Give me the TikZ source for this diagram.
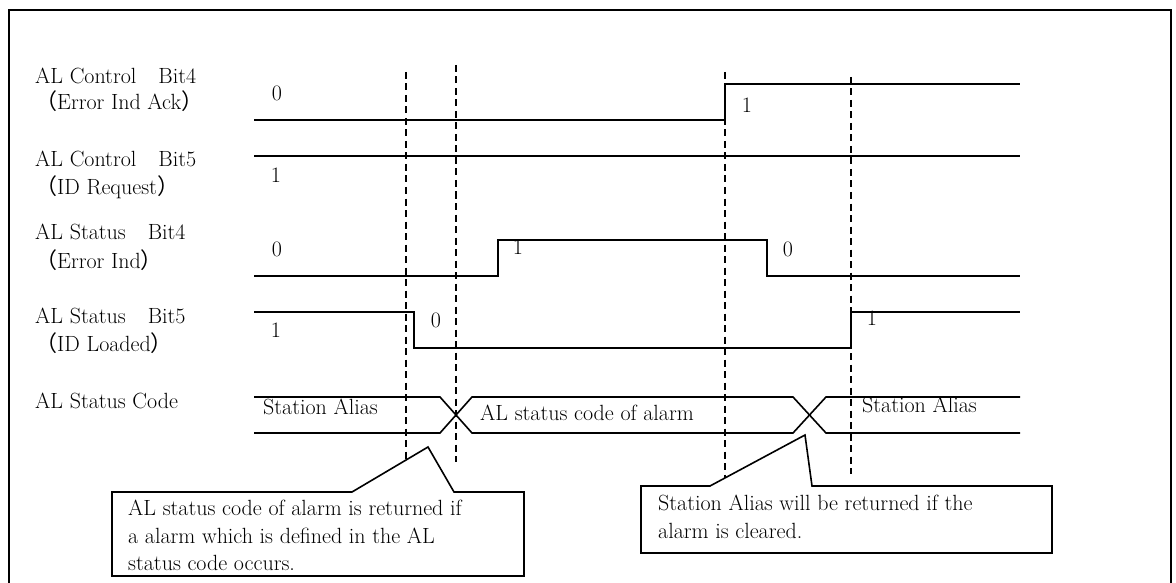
\documentclass[tikz,border=0pt]{standalone}
\usepackage{fontspec}
\newfontfamily\cjk{Noto Sans CJK JP}

\begin{document}
\begin{tikzpicture}[x=1pt,y=-1pt,
  every node/.style={inner sep=0pt,font=\fontsize{22}{27.5}\selectfont},
  sig/.style={line width=1.6pt},
  guide/.style={line width=1.6pt,dash pattern=on 7pt off 4.5pt},
  lbl/.style={anchor=base west},
  callout/.style={line width=1.6pt,fill=white,line join=miter}]
\useasboundingbox (0,0) rectangle (1176,583);
\fill[white] (0,0) rectangle (1176,583);
\draw[line width=2.5pt] (9,583) -- (9,10) -- (1171,10) -- (1171,583);

% signal names
\node[lbl] (ctlA) at (35,84) {AL Control\quad Bit4};
\node[lbl] (ctlAsub) at (35,110) {{\cjk （}Error Ind Ack{\cjk ）}};
\node[lbl] (ctlB) at (35,167) {AL Control\quad Bit5};
\node[lbl] (ctlBsub) at (35,195) {{\cjk （}ID Request{\cjk ）}};
\node[lbl] (statA) at (35,240) {AL Status\quad Bit4};
\node[lbl] (statAsub) at (35,268) {{\cjk （}Error Ind{\cjk ）}};
\node[lbl] (statB) at (35,323) {AL Status\quad Bit5};
\node[lbl] (statBsub) at (35,351) {{\cjk （}ID Loaded{\cjk ）}};
\node[lbl] (code) at (35,408) {AL Status Code};

% guides
\draw[guide] (406,72) -- (406,470);
\draw[guide] (456,65) -- (456,462);
\draw[guide] (725,72) -- (725,482);
\draw[guide] (851,77) -- (851,474);

% waveforms
\draw[sig] (254,120) -- (725,120) -- (725,84) -- (1020,84);
\draw[sig] (254,156) -- (1020,156);
\draw[sig] (254,276) -- (498,276) -- (498,240) -- (767,240) -- (767,276) -- (1020,276);
\draw[sig] (254,312) -- (414,312) -- (414,348) -- (851,348) -- (851,312) -- (1020,312);
\draw[sig] (254,397) -- (440,397) -- (472,433) -- (793,433) -- (826,397) -- (1020,397);
\draw[sig] (254,433) -- (440,433) -- (472,397) -- (793,397) -- (826,433) -- (1020,433);

% levels
\node (ackLo) at (277,93) {0};
\node (ackHi) at (747,105) {1};
\node (reqHi) at (276,175) {1};
\node (errLo) at (277,249) {0};
\node (errHi) at (518,247) {1};
\node (errLo2) at (788,249) {0};
\node (ldHi) at (276,330) {1};
\node (ldLo) at (436,320) {0};
\node (ldHi2) at (872,318) {1};

\node[anchor=west] (alias) at (263,407) {Station Alias};
\node[anchor=west] (alarm) at (480,413) {AL status code of alarm};
\node[anchor=west] (alias2) at (862,405) {Station Alias};

% notes
\coordinate (tipA) at (428,447);
\coordinate (tipB) at (805,435);
\draw[callout] (112,492) -- (352,492) -- (tipA) -- (454,492) -- (524,492)
  -- (524,576) -- (112,576) -- cycle;
\node[anchor=north west,align=left] (noteA) at (128,500)
  {AL status code of alarm is returned if\\a alarm which is defined in the AL\\status code occurs.};
\draw[callout] (641,486) -- (710,486) -- (tipB) -- (812,486) -- (1052,486)
  -- (1052,553) -- (641,553) -- cycle;
\node[anchor=north west,align=left] (noteB) at (658,495)
  {Station Alias will be returned if the\\alarm is cleared.};
\end{tikzpicture}
\end{document}
